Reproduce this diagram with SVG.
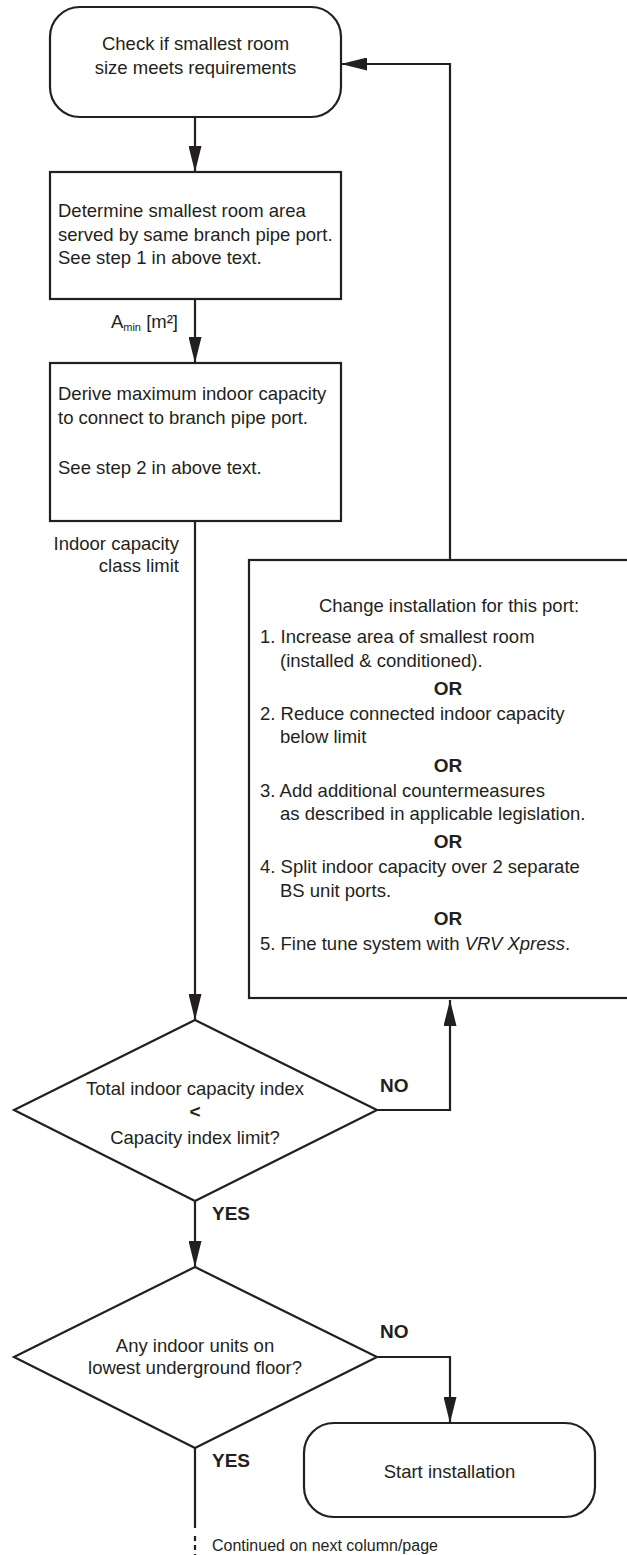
<svg xmlns="http://www.w3.org/2000/svg" width="627" height="1555" viewBox="0 0 627 1555">
<style>
.shape{fill:#fff;stroke:#231f20;stroke-width:2.2}
.ln{fill:none;stroke:#231f20;stroke-width:2.2}
text{font-family:"Liberation Sans",Arial,sans-serif;font-size:18.5px;fill:#231f20}
.c{text-anchor:middle}
.e{text-anchor:end}
.b{font-weight:bold;font-size:19px}
.sm{font-size:16px}
</style>
<defs>
<marker id="ah" markerUnits="userSpaceOnUse" markerWidth="26" markerHeight="13" refX="26" refY="6.5" orient="auto">
<path d="M0,0 L26,6.5 L0,13 z" fill="#231f20"/>
</marker>
</defs>
<rect width="627" height="1555" fill="#fff"/>
<g id="connectors">
<path class="ln" d="M195,117 V172" marker-end="url(#ah)"/>
<path class="ln" d="M195,299 V363" marker-end="url(#ah)"/>
<path class="ln" d="M195,521 V1020" marker-end="url(#ah)"/>
<path class="ln" d="M450,560 V64 H341" marker-end="url(#ah)"/>
<path class="ln" d="M377,1110 H450 V1000" marker-end="url(#ah)"/>
<path class="ln" d="M195,1201 V1267" marker-end="url(#ah)"/>
<path class="ln" d="M377,1357 H450 V1423" marker-end="url(#ah)"/>
<path class="ln" d="M195,1448 V1528"/>
<path class="ln" d="M195,1536 V1555" stroke-dasharray="5 4"/>
<text x="178" y="328" class="e">A<tspan font-size="11" dy="3">min</tspan><tspan dy="-3"> [m²]</tspan></text>
<text x="179" y="550" class="e">Indoor capacity</text>
<text x="179" y="572" class="e">class limit</text>
<text x="380" y="1092" class="b">NO</text>
<text x="212" y="1220" class="b">YES</text>
<text x="380" y="1338" class="b">NO</text>
<text x="212" y="1467" class="b">YES</text>
<text x="212" y="1551" class="sm">Continued on next column/page</text>
</g>
<g id="start">
<rect class="shape" x="50" y="7" width="291" height="110" rx="30" ry="30"/>
<text x="195.5" y="50" class="c">Check if smallest room</text>
<text x="195.5" y="74" class="c">size meets requirements</text>
</g>
<g id="determine">
<rect class="shape" x="50" y="172" width="291" height="127"/>
<text x="58" y="217">Determine smallest room area</text>
<text x="58" y="240.5">served by same branch pipe port.</text>
<text x="58" y="264">See step 1 in above text.</text>
</g>
<g id="derive">
<rect class="shape" x="50" y="363" width="291" height="158"/>
<text x="58" y="400">Derive maximum indoor capacity</text>
<text x="58" y="424">to connect to branch pipe port.</text>
<text x="58" y="474">See step 2 in above text.</text>
</g>
<g id="change">
<rect class="shape" x="249" y="560" width="400" height="438"/>
<text x="449" y="612" class="c">Change installation for this port:</text>
<text x="260" y="643">1. Increase area of smallest room</text>
<text x="280" y="667">(installed &amp; conditioned).</text>
<text x="448" y="695" class="c b">OR</text>
<text x="260" y="720">2. Reduce connected indoor capacity</text>
<text x="280" y="743">below limit</text>
<text x="448" y="772" class="c b">OR</text>
<text x="260" y="797">3. Add additional countermeasures</text>
<text x="280" y="820">as described in applicable legislation.</text>
<text x="448" y="848" class="c b">OR</text>
<text x="260" y="873">4. Split indoor capacity over 2 separate</text>
<text x="280" y="897">BS unit ports.</text>
<text x="448" y="925" class="c b">OR</text>
<text x="260" y="950">5. Fine tune system with <tspan font-style="italic">VRV Xpress</tspan>.</text>
</g>
<g id="decision1">
<polygon class="shape" points="195,1020 377,1110 195,1201 14,1110"/>
<text x="195" y="1095" class="c">Total indoor capacity index</text>
<text x="195" y="1118" class="c b">&lt;</text>
<text x="195" y="1144" class="c">Capacity index limit?</text>
</g>
<g id="decision2">
<polygon class="shape" points="195,1267 377,1357 195,1448 14,1357"/>
<text x="195" y="1352" class="c">Any indoor units on</text>
<text x="195" y="1374" class="c">lowest underground floor?</text>
</g>
<g id="install">
<rect class="shape" x="304" y="1423" width="291" height="94" rx="30" ry="30"/>
<text x="449.5" y="1478" class="c">Start installation</text>
</g>
</svg>
